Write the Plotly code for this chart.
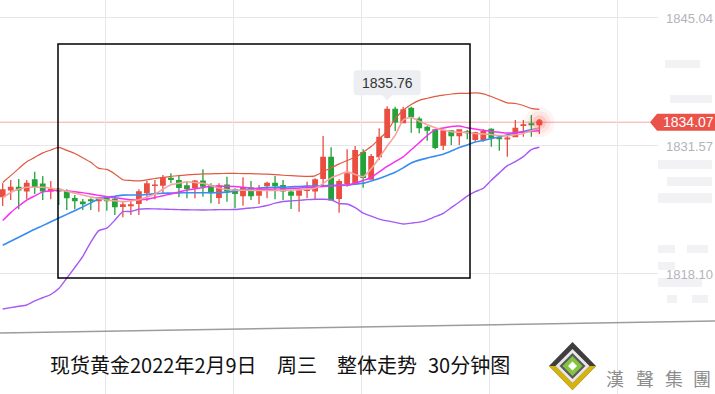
import plotly.graph_objects as go

# ---------------- data ----------------
opens = [1826.23,1826.94,1827.22,1826.86,1827.99,1827.54,1826.86,1827.01,1826.76,1826.02,
         1825.67,1825.89,1825.81,1826.06,1825.96,1825.22,1825.30,1825.54,1826.65,1827.43,
         1827.46,1828.17,1827.92,1827.36,1827.18,1827.88,1827.39,1826.17,1827.46,1826.94,
         1826.34,1827.12,1826.41,1827.39,1827.64,1827.39,1826.70,1826.41,1826.90,1826.86,
         1828.17,1830.38,1826.06,1827.64,1827.75,1830.86,1828.09,1830.44,1832.48,1835.43,
         1834.02,1835.53,1834.38,1833.53,1833.25,1831.67,1833.15,1832.65,1833.05,1832.27,
         1832.27,1833.32,1832.42,1832.33,1832.55,1833.74,1833.88,1833.82]
highs = [1827.64,1827.99,1828.09,1827.99,1828.86,1828.41,1827.88,1827.15,1827.01,1826.41,
         1826.00,1826.06,1826.17,1826.23,1826.17,1825.71,1825.89,1827.01,1827.92,1827.99,
         1828.52,1828.69,1828.41,1827.81,1827.99,1829.11,1827.64,1827.64,1828.34,1827.12,
         1828.27,1827.88,1827.46,1827.81,1828.41,1827.99,1826.94,1827.12,1827.81,1828.17,
         1832.62,1831.43,1828.06,1831.22,1831.57,1831.22,1830.72,1833.43,1835.76,1835.70,
         1835.70,1835.70,1834.65,1833.67,1833.25,1833.25,1833.15,1833.32,1833.25,1833.07,
         1833.32,1833.43,1832.55,1832.62,1834.30,1834.30,1834.83,1834.38]
lows = [1825.25,1825.89,1824.90,1825.96,1826.52,1825.89,1825.96,1825.36,1824.83,1824.90,
        1824.83,1824.83,1824.65,1824.75,1824.30,1824.06,1824.30,1824.30,1825.78,1825.96,
        1826.59,1827.64,1826.17,1826.06,1826.06,1826.23,1825.54,1825.46,1825.71,1825.01,
        1825.28,1825.89,1825.46,1826.06,1825.96,1825.89,1824.94,1824.65,1826.06,1825.89,
        1827.46,1825.85,1824.55,1827.29,1827.64,1827.18,1828.09,1830.09,1832.38,1833.15,
        1833.96,1832.97,1832.90,1832.12,1831.22,1831.15,1831.67,1831.67,1832.27,1832.02,
        1832.02,1831.49,1831.07,1830.44,1832.48,1832.55,1832.55,1832.83]
closes = [1826.94,1827.22,1826.94,1827.64,1827.22,1826.86,1827.01,1826.86,1826.13,1825.81,
          1825.50,1825.81,1826.10,1825.81,1825.18,1825.36,1825.36,1826.73,1827.57,1827.46,
          1828.23,1828.06,1827.22,1827.12,1827.88,1827.36,1826.65,1827.36,1826.86,1826.59,
          1827.18,1826.34,1827.01,1827.64,1827.39,1826.86,1826.41,1826.83,1826.94,1827.99,
          1830.38,1825.89,1827.81,1828.62,1831.07,1828.27,1830.44,1832.48,1835.43,1834.12,
          1835.36,1834.65,1833.49,1833.25,1831.43,1833.15,1832.65,1833.25,1832.97,1832.97,
          1833.07,1832.48,1832.35,1832.40,1833.43,1833.80,1833.82,1834.07]

ma_fast = [1826.14,1826.68,1827.01,1827.22,1827.22,1827.22,1827.12,1827.00,1826.81,1826.61,
           1826.41,1826.21,1826.05,1825.88,1825.80,1825.71,1825.80,1825.91,1826.19,1826.52,
           1827.01,1827.48,1827.65,1827.81,1827.73,1827.64,1827.40,1827.15,1826.99,1826.93,
           1826.91,1826.90,1826.89,1826.88,1826.89,1826.90,1826.93,1826.96,1827.03,1827.11,
           1827.62,1828.21,1828.55,1828.85,1828.57,1828.34,1829.17,1830.31,1831.57,1832.69,
           1834.30,1834.57,1834.18,1833.80,1833.49,1833.25,1833.07,1833.02,1832.98,1832.88,
           1832.83,1832.78,1832.67,1832.64,1832.75,1832.89,1833.16,1833.50]
ma_mid = [1823.72,1824.56,1825.25,1825.88,1826.31,1826.74,1826.85,1826.94,1826.84,1826.75,
          1826.66,1826.52,1826.37,1826.22,1826.11,1826.01,1825.92,1825.92,1825.96,1826.15,
          1826.33,1826.52,1826.73,1826.94,1827.06,1827.19,1827.32,1827.34,1827.34,1827.31,
          1827.22,1827.14,1827.05,1827.02,1827.04,1827.07,1827.09,1827.14,1827.19,1827.25,
          1827.31,1827.37,1827.41,1827.45,1827.64,1827.93,1828.25,1828.84,1829.42,1829.93,
          1830.43,1831.17,1831.91,1832.67,1833.29,1833.46,1833.62,1833.67,1833.48,1833.35,
          1833.22,1833.10,1833.01,1832.93,1832.95,1833.04,1833.11,1833.18]
ma_slow = [1821.12,1821.54,1821.96,1822.38,1822.80,1823.19,1823.59,1823.98,1824.37,1824.76,
           1825.16,1825.58,1826.00,1826.17,1826.28,1826.40,1826.41,1826.41,1826.47,1826.55,
           1826.60,1826.61,1826.63,1826.65,1826.65,1826.65,1826.65,1826.66,1826.71,1826.82,
           1826.93,1827.02,1827.13,1827.19,1827.22,1827.25,1827.27,1827.31,1827.34,1827.37,
           1827.39,1827.41,1827.44,1827.46,1827.56,1827.64,1827.89,1828.15,1828.46,1828.80,
           1829.27,1829.78,1830.08,1830.30,1830.50,1830.71,1831.04,1831.41,1831.67,1831.98,
           1832.16,1832.34,1832.54,1832.76,1832.93,1833.10,1833.27,1833.43]
boll_upper = [1827.72,1828.45,1829.19,1829.91,1830.37,1830.84,1831.15,1831.42,1831.10,1830.78,
              1830.33,1829.85,1829.21,1829.10,1828.63,1828.02,1827.94,1827.89,1828.00,1828.15,
              1828.27,1828.38,1828.45,1828.52,1828.58,1828.63,1828.64,1828.66,1828.68,1828.68,
              1828.66,1828.65,1828.63,1828.60,1828.55,1828.49,1828.44,1828.40,1828.37,1828.43,
              1828.85,1829.27,1829.69,1830.04,1830.38,1830.92,1831.51,1832.29,1833.12,1834.41,
              1835.33,1835.94,1836.37,1836.59,1836.79,1836.92,1837.04,1837.11,1837.11,1837.15,
              1837.06,1836.78,1836.43,1836.11,1836.04,1835.83,1835.52,1835.43]
boll_lower = [1814.42,1814.56,1814.70,1814.84,1815.26,1815.60,1815.94,1816.56,1817.66,1818.78,
              1819.96,1821.45,1822.66,1822.92,1823.76,1824.65,1824.68,1824.91,1824.97,1824.95,
              1824.92,1824.90,1824.87,1824.86,1824.84,1824.83,1824.85,1824.87,1824.87,1824.88,
              1824.97,1825.05,1825.14,1825.30,1825.55,1825.73,1825.79,1825.85,1825.92,1825.96,
              1825.96,1825.91,1825.51,1825.46,1825.08,1824.50,1824.19,1823.88,1823.69,1823.53,
              1823.36,1823.45,1823.55,1823.77,1824.13,1824.48,1825.08,1825.67,1826.30,1826.76,
              1827.12,1827.96,1828.74,1829.50,1829.93,1830.45,1831.19,1831.43]

price_ticks = [1818.10, 1831.57, 1845.04]
title_parts = ["现货黄金2022年2月9日", "周三", "整体走势", "30分钟图"]
brand_chars = ["漢", "聲", "集", "團"]

# ---------------- layout constants ----------------
W, H = 715, 394
PW, PH = 658, 394          # plot area in pixels
XR = [-0.337, 81.81]
YR = [1805.47, 1846.93]
PX_X = (XR[1] - XR[0]) / PW
PY = (YR[1] - YR[0]) / PH

def px(x):
    return x / PW

def py(y):
    return 1 - y / PH

RED = "#ea4e41"
GREEN = "#23a33a"
TITLE_FONT = "Noto Sans CJK SC, Noto Sans, sans-serif"

xs = list(range(len(closes)))

fig = go.Figure()

for series, color, width in [
    (boll_upper, "#e05a40", 1.2),
    (boll_lower, "#a659f5", 1.4),
    (ma_slow, "#3a8cf0", 1.6),
    (ma_mid, "#f730f0", 1.5),
    (ma_fast, "#f6a39e", 1.6),
]:
    fig.add_trace(go.Scatter(x=xs, y=series, mode="lines",
                             line=dict(color=color, width=width, shape="spline", smoothing=0.6),
                             hoverinfo="skip", showlegend=False))

fig.add_trace(go.Candlestick(
    x=xs, open=opens, high=highs, low=lows, close=closes,
    increasing=dict(line=dict(color=RED, width=1.3), fillcolor=RED),
    decreasing=dict(line=dict(color=GREEN, width=1.3), fillcolor=GREEN),
    whiskerwidth=0, showlegend=False, hoverinfo="skip"))

# glow on the last price
last_x, last_c = xs[-1], closes[-1]
for size, op in [(30, 0.06), (22, 0.09), (14, 0.16), (6, 0.9)]:
    fig.add_trace(go.Scatter(x=[last_x], y=[last_c], mode="markers",
                             marker=dict(size=size, color="#f04a3c", opacity=op, line=dict(width=0)),
                             hoverinfo="skip", showlegend=False))

shapes = []

# faint watermark bars in the right-hand margin (decoration)
right_bars = [(658, 712, 160, 169), (667, 712, 177, 186), (658, 712, 193, 203), (658, 675, 245, 253),
              (687, 708, 245, 253), (658, 675, 262, 270), (658, 702, 278, 287), (667, 677, 295, 303),
              (692, 708, 295, 303), (670, 712, 95, 103), (665, 700, 60, 68)]
wm_path = " ".join(
    f"M {px(a):.4f},{py(c):.4f} L {px(b):.4f},{py(c):.4f} L {px(b):.4f},{py(d):.4f} L {px(a):.4f},{py(d):.4f} Z"
    for a, b, c, d in right_bars)
shapes.append(dict(type="path", xref="paper", yref="paper", path=wm_path, fillcolor="#f2f2f5",
                   line=dict(width=0), layer="below"))

# current price line
shapes.append(dict(type="line", xref="paper", yref="y", x0=0, x1=px(650), y0=last_c, y1=last_c,
                   line=dict(color="#f5a7a2", width=1), layer="below"))
# price tag
t0, t1 = last_c - 8.5 * PY, last_c + 8.5 * PY
shapes.append(dict(type="path", xref="paper", yref="y",
                   path=f"M {px(650)},{last_c} L {px(657)},{t1} L {px(716)},{t1} L {px(716)},{t0} L {px(657)},{t0} Z",
                   fillcolor="#e9534a", line=dict(width=0), layer="above"))
# black frame
shapes.append(dict(type="rect", xref="paper", yref="paper", x0=px(58), x1=px(470), y0=py(278), y1=py(44),
                   line=dict(color="#000000", width=1.5), layer="above"))
# diagonal gray line at the bottom
shapes.append(dict(type="line", xref="paper", yref="paper", x0=0, x1=px(715), y0=py(333), y1=py(321),
                   line=dict(color="#9c9c9c", width=1.5), layer="above"))

# callout for the highest high (same construction that rendered earlier)
hi_idx = max(range(len(highs)), key=lambda i: highs[i])
hx, hy = xs[hi_idx], highs[hi_idx]
bw = 33.5 * PX_X
rb = hy + 11 * PY
rt = hy + 36 * PY
tip = hy + 6 * PY
r_x, r_y = 3 * PX_X, 3 * PY
path = (f"M {hx - bw + r_x},{rt} L {hx + bw - r_x},{rt} Q {hx + bw},{rt} {hx + bw},{rt - r_y} "
        f"L {hx + bw},{rb + r_y} Q {hx + bw},{rb} {hx + bw - r_x},{rb} "
        f"L {hx + 5 * PX_X},{rb} L {hx},{tip} L {hx - 5 * PX_X},{rb} "
        f"L {hx - bw + r_x},{rb} Q {hx - bw},{rb} {hx - bw},{rb + r_y} "
        f"L {hx - bw},{rt - r_y} Q {hx - bw},{rt} {hx - bw + r_x},{rt} Z")
shapes.append(dict(type="path", xref="x", yref="y", path=path, fillcolor="#eceef1",
                   line=dict(width=0), layer="above"))

# logo diamond
cx, cy = 572.5, 366
def diamond(hw, hh, color):
    return dict(type="path", xref="paper", yref="paper",
                path=f"M {px(cx)},{py(cy - hh)} L {px(cx + hw)},{py(cy)} L {px(cx)},{py(cy + hh)} L {px(cx - hw)},{py(cy)} Z",
                fillcolor=color, line=dict(width=0), layer="above")
shapes.append(diamond(23.5, 24, "#3e3e3e"))
shapes.append(dict(type="path", xref="paper", yref="paper",
                   path=(f"M {px(cx - 23.5)},{py(cy)} L {px(cx)},{py(cy + 24)} L {px(cx + 23.5)},{py(cy)} "
                         f"L {px(cx + 17)},{py(cy)} L {px(cx)},{py(cy + 17)} L {px(cx - 17)},{py(cy)} Z"),
                   fillcolor="#d6b40c", line=dict(width=0), layer="above"))
shapes.append(diamond(17, 17, "#e9e9e9"))
shapes.append(diamond(13, 13, "#5a5a5a"))
shapes.append(diamond(10, 10, "#84c441"))
shapes.append(diamond(4.5, 4.5, "#ffffff"))

annotations = []
annotations.append(dict(xref="x", yref="y", x=hx, y=(rb + rt) / 2, text=f"{hy:.2f}",
                        showarrow=False, font=dict(family="Liberation Sans, Arial", size=14, color="#333333")))
annotations.append(dict(xref="paper", yref="y", x=px(661), y=last_c, xanchor="left", text=f"{last_c:.2f}",
                        showarrow=False, font=dict(family="Liberation Sans, Arial", size=14, color="#ffffff")))
for txt, xl in zip(title_parts, [48, 275, 335, 426]):
    annotations.append(dict(xref="paper", yref="paper", x=px(xl), y=py(364), xanchor="left", yanchor="middle",
                            text=txt, showarrow=False,
                            font=dict(family=TITLE_FONT, size=20, color="#111111")))
for ch, xc in zip(brand_chars, [614.5, 645, 673.5, 701.5]):
    annotations.append(dict(xref="paper", yref="paper", x=px(xc), y=py(377.5), xanchor="center", yanchor="middle",
                            text=ch, showarrow=False,
                            font=dict(family="Noto Sans CJK TC, Noto Sans CJK SC, sans-serif", size=18, color="#8c8c8c")))

grid_x = [12.8, 28.8, 44.8, 60.8, 76.8]

fig.update_layout(
    width=W, height=H,
    margin=dict(l=0, r=W - PW, t=0, b=0),
    paper_bgcolor="#ffffff", plot_bgcolor="#ffffff",
    showlegend=False, hovermode=False, boxgap=0.2,
    shapes=shapes, annotations=annotations,
    xaxis=dict(range=XR, tickvals=grid_x, showticklabels=False, showgrid=True,
               gridcolor="#e6e6eb", gridwidth=1, zeroline=False, showline=False,
               rangeslider=dict(visible=False), fixedrange=True, ticks=""),
    yaxis=dict(range=YR, side="right", tickvals=price_ticks, ticktext=[f"{v:.2f}" for v in price_ticks],
               showgrid=True, gridcolor="#e6e6eb", gridwidth=1, zeroline=False, showline=False,
               ticks="", ticklabelstandoff=7,
               tickfont=dict(family="Liberation Sans, Arial", size=13, color="#b3b3bb"), fixedrange=True),
)

fig.write_html("out.html", config={"displayModeBar": False},
               post_script="document.body.style.margin='0';document.body.style.padding='0';")
